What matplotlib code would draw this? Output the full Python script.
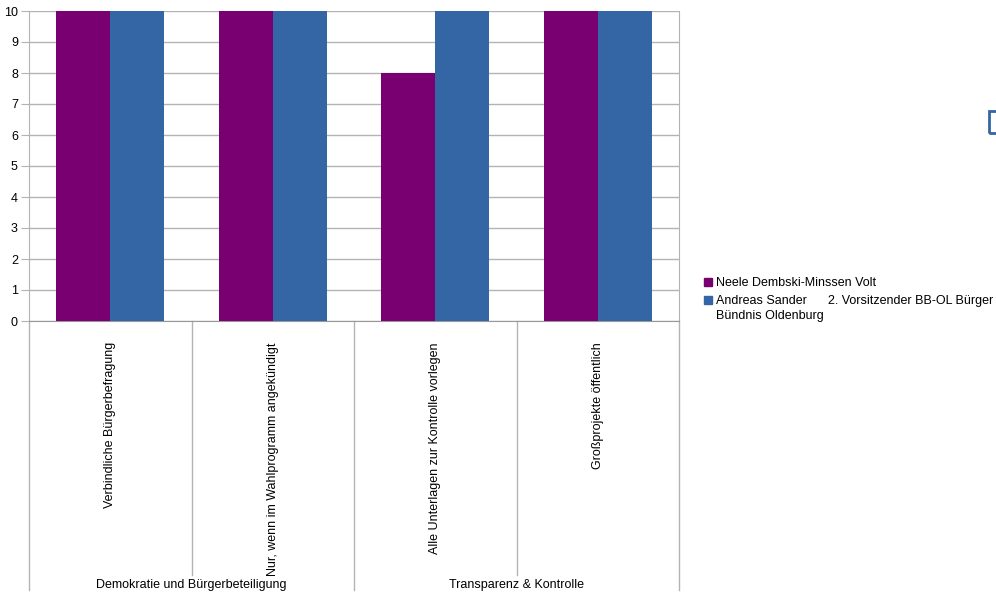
import matplotlib.pyplot as plt
import matplotlib.patches as mpatches
import numpy as np

plt.rcParams['font.family'] = ['Liberation Sans', 'DejaVu Sans']
plt.rcParams['font.size'] = 9

categories = ['Verbindliche Bürgerbefragung',
              'Nur, wenn im Wahlprogramm angekündigt',
              'Alle Unterlagen zur Kontrolle vorlegen',
              'Großprojekte öffentlich']
groups = ['Demokratie und Bürgerbeteiligung', 'Transparenz & Kontrolle']
series_names = ['Neele Dembski-Minssen Volt',
                'Andreas Sander      2. Vorsitzender BB-OL Bürger\nBündnis Oldenburg']
neele = [10, 10, 8, 10]
andreas = [10, 10, 10, 10]
colors = ['#780070', '#3465a4']

W, H = 996, 602
fig = plt.figure(figsize=(W / 100, H / 100), dpi=100)
ax = fig.add_axes([29 / W, 1 - 321 / H, 650 / W, 310 / H])

grid_c = '#b3b3b3'
x = np.arange(len(categories))
bw = 54 / 162.5
ax.bar(x - bw / 2, neele, bw, color=colors[0], zorder=3)
ax.bar(x + bw / 2, andreas, bw, color=colors[1], zorder=3)

ax.set_xlim(-0.5, 3.5)
ax.set_ylim(0, 10)
ax.set_yticks(range(0, 11))
ax.yaxis.grid(True, color=grid_c, linewidth=1, zorder=0)
ax.set_xticks([])
ax.spines['top'].set_visible(False)
ax.spines['right'].set_color(grid_c)
ax.spines['left'].set_color(grid_c)
ax.spines['bottom'].set_color('#999999')
ax.tick_params(axis='y', length=6, color=grid_c, pad=2, labelsize=9)

# separator lines below the axis
tr = ax.get_xaxis_transform()
h = 310
for i, xs in enumerate([-0.5, 0.5, 1.5, 2.5, 3.5]):
    y_end = -269 / h if i % 2 == 0 else -254 / h
    ax.plot([xs, xs], [0, y_end], color=grid_c, linewidth=1, transform=tr, clip_on=False)

for xi, lab in zip(x, categories):
    ax.text(xi, -21 / h, lab, rotation=90, ha='center', va='top', transform=tr, fontsize=9)

for gi, g in enumerate(groups):
    ax.text(0.5 + 2 * gi, -264 / h, g, ha='center', va='center', transform=tr, fontsize=9)

# legend, handle aligned with the first line of each entry
leg_y = [282, 300]
for name, c, yp in zip(series_names, colors, leg_y):
    fig.patches.append(mpatches.Rectangle((704 / W, 1 - (yp + 4) / H), 8 / W, 8 / H,
                                          transform=fig.transFigure, color=c))
    fig.text(716 / W, 1 - (yp - 5) / H, name, ha='left', va='top', fontsize=9,
             linespacing=1.3)

# small blue box cut off at the right edge
fig.patches.append(mpatches.Rectangle((989 / W, 1 - 133 / H), 20 / W, 22 / H,
                                      transform=fig.transFigure, fill=False,
                                      edgecolor='#3465a4', linewidth=2))

fig.savefig('out.png', dpi=100)
